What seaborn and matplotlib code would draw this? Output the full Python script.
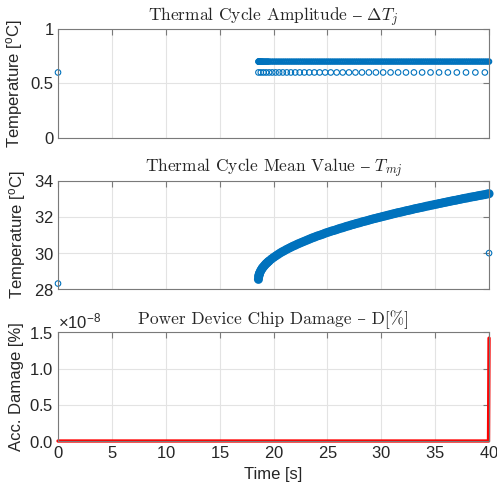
import matplotlib
matplotlib.use("Agg")
import matplotlib.pyplot as plt
import seaborn as sns

# ---------------- data ----------------
# cycle times (s) for the dense cycle series
t_cyc = [18.60, 18.62, 18.64, 18.67, 18.70, 18.74, 18.80, 18.87, 18.94, 19.0,
         19.1, 19.2, 19.3, 19.4, 19.5, 19.6, 19.8, 20.0, 20.2, 20.4, 20.6, 20.8,
         21.0, 21.2, 21.4, 21.6, 21.8, 22.0, 22.2, 22.4, 22.6, 22.8, 23.0, 23.2,
         23.4, 23.6, 23.8, 24.0, 24.2, 24.4, 24.6, 24.8, 25.0, 25.2, 25.4, 25.6,
         25.8, 26.0, 26.2, 26.4, 26.6, 26.8, 27.0, 27.2, 27.4, 27.6, 27.8, 28.0,
         28.2, 28.4, 28.6, 28.8, 29.0, 29.2, 29.4, 29.6, 29.8, 30.0, 30.2, 30.4,
         30.6, 30.8, 31.0, 31.2, 31.4, 31.6, 31.8, 32.0, 32.2, 32.4, 32.6, 32.8,
         33.0, 33.2, 33.4, 33.6, 33.8, 34.0, 34.2, 34.4, 34.6, 34.8, 35.0, 35.2,
         35.4, 35.6, 35.8, 36.0, 36.2, 36.4, 36.6, 36.8, 37.0, 37.2, 37.4, 37.6,
         37.8, 38.0, 38.2, 38.4, 38.6, 38.8, 39.0, 39.2, 39.4, 39.6, 39.8, 40.0]
# amplitude of those cycles (degC)
amp_cyc = [0.7] * len(t_cyc)
# mean value of those cycles (degC)
mean_cyc = [28.55, 28.69, 28.75, 28.82, 28.87, 28.93, 29.01, 29.08, 29.15, 29.20,
            29.27, 29.34, 29.41, 29.46, 29.52, 29.57, 29.67, 29.76, 29.84, 29.92,
            30.00, 30.07, 30.13, 30.20, 30.26, 30.32, 30.38, 30.43, 30.49, 30.54,
            30.59, 30.64, 30.69, 30.74, 30.79, 30.84, 30.88, 30.93, 30.97, 31.01,
            31.05, 31.10, 31.14, 31.18, 31.22, 31.25, 31.29, 31.33, 31.37, 31.40,
            31.44, 31.48, 31.51, 31.55, 31.58, 31.62, 31.65, 31.68, 31.72, 31.75,
            31.78, 31.81, 31.85, 31.88, 31.91, 31.94, 31.97, 32.00, 32.03, 32.06,
            32.09, 32.12, 32.15, 32.18, 32.21, 32.24, 32.26, 32.29, 32.32, 32.35,
            32.37, 32.40, 32.43, 32.46, 32.48, 32.51, 32.53, 32.56, 32.59, 32.61,
            32.64, 32.66, 32.69, 32.71, 32.74, 32.76, 32.79, 32.81, 32.84, 32.86,
            32.89, 32.91, 32.93, 32.96, 32.98, 33.01, 33.03, 33.05, 33.08, 33.10,
            33.12, 33.14, 33.17, 33.19, 33.21, 33.23, 33.26, 33.28]
# sparser cycles with 0.6 degC amplitude
t_small = [18.60, 18.82, 19.06, 19.31, 19.59, 19.88, 20.19, 20.52, 20.86, 21.23,
           21.61, 22.01, 22.43, 22.86, 23.32, 23.79, 24.28, 24.79, 25.31, 25.86,
           26.42, 27.00, 27.60, 28.21, 28.85, 29.50, 30.17, 30.86, 31.56, 32.29,
           33.03, 33.79, 34.57, 35.36, 36.18, 37.01, 37.86, 38.73, 39.61]
amp_small = [0.6] * len(t_small)
# isolated (half) cycles
t_iso_amp = [0.0]
amp_iso = [0.6]
t_iso_mean = [0.0, 40.0]
mean_iso = [28.32, 30.0]
# accumulated damage
t_dmg = [0.0, 39.95, 40.0]
dmg = [0.0, 0.0, 1.42e-8]

x_ticks = [0, 5, 10, 15, 20, 25, 30, 35, 40]

# ---------------- style ----------------
sns.set_theme(style="white")
plt.rcParams["font.family"] = ["Liberation Sans", "DejaVu Sans"]
plt.rcParams["mathtext.fontset"] = "custom"
plt.rcParams["mathtext.rm"] = "Liberation Sans"
plt.rcParams["mathtext.it"] = "Liberation Sans:italic"
plt.rcParams["axes.formatter.use_mathtext"] = True

blue = "#0072BD"
frame = "#7a7a7a"
gridc = "#e3e3e3"
tick_fs = 12
title_kw = dict(fontsize=12.5, family=["cmr10", "DejaVu Serif"], math_fontfamily="cm", pad=6)

fig, axes = plt.subplots(3, 1, figsize=(4.97, 4.88), dpi=100)
fig.subplots_adjust(left=0.1167, right=0.984, bottom=0.0963, top=0.9406, hspace=0.396)

open_kw = dict(marker="o", s=16, facecolor="none", edgecolor=blue, linewidth=0.8,
               clip_on=False, legend=False)
band_top_kw = dict(marker="o", s=10, facecolor="none", edgecolor=blue, linewidth=1.5,
                   clip_on=False, legend=False)
band_mean_kw = dict(marker="o", s=20, facecolor="none", edgecolor=blue, linewidth=2.0,
                    clip_on=False, legend=False)

# --- amplitude ---
ax = axes[0]
sns.scatterplot(x=t_cyc, y=amp_cyc, ax=ax, **band_top_kw)
sns.scatterplot(x=t_small, y=amp_small, ax=ax, **open_kw)
sns.scatterplot(x=t_iso_amp, y=amp_iso, ax=ax, **open_kw)
ax.set_ylim(0, 1)
ax.set_yticks([0, 0.5, 1])
ax.set_yticklabels(["0", "0.5", "1"])
ax.set_ylabel(r"Temperature [$^{\mathregular{o}}$C]", fontsize=12)
ax.set_title("Thermal Cycle Amplitude $\u2013$ $\\Delta T_j$", **title_kw)

# --- mean ---
ax = axes[1]
sns.scatterplot(x=t_cyc, y=mean_cyc, ax=ax, **band_mean_kw)
sns.scatterplot(x=t_iso_mean, y=mean_iso, ax=ax, **open_kw)
ax.set_ylim(28, 34)
ax.set_yticks([28, 30, 32, 34])
ax.set_ylabel(r"Temperature [$^{\mathregular{o}}$C]", fontsize=12)
ax.set_title("Thermal Cycle Mean Value $\u2013$ $T_{mj}$", **title_kw)

# --- damage ---
ax = axes[2]
sns.lineplot(x=t_dmg, y=dmg, ax=ax, color="#ff0000", lw=2.4, sort=False,
             estimator=None, clip_on=False)
ax.set_ylim(0, 1.5e-8)
ax.set_yticks([0, 0.5e-8, 1.0e-8, 1.5e-8])
ax.set_ylabel("Acc. Damage [%]", fontsize=12)
ax.set_xlabel("Time [s]", fontsize=12)
ax.set_title("Power Device Chip Damage \u2013 D[%]", **title_kw)
ax.yaxis.get_offset_text().set_fontsize(tick_fs)

for i, ax in enumerate(axes):
    ax.set_xlim(0, 40)
    ax.set_xticks(x_ticks)
    if i < 2:
        ax.set_xticklabels([])
    ax.grid(True, color=gridc, lw=0.8)
    ax.set_axisbelow(True)
    ax.tick_params(direction="in", length=4, width=0.8, color=frame,
                   top=True, right=True, labelsize=tick_fs, labelcolor="#262626", pad=3)
    for sp in ax.spines.values():
        sp.set_visible(True)
        sp.set_color(frame)
        sp.set_linewidth(0.8)

fig.savefig("out.png", dpi=100)
